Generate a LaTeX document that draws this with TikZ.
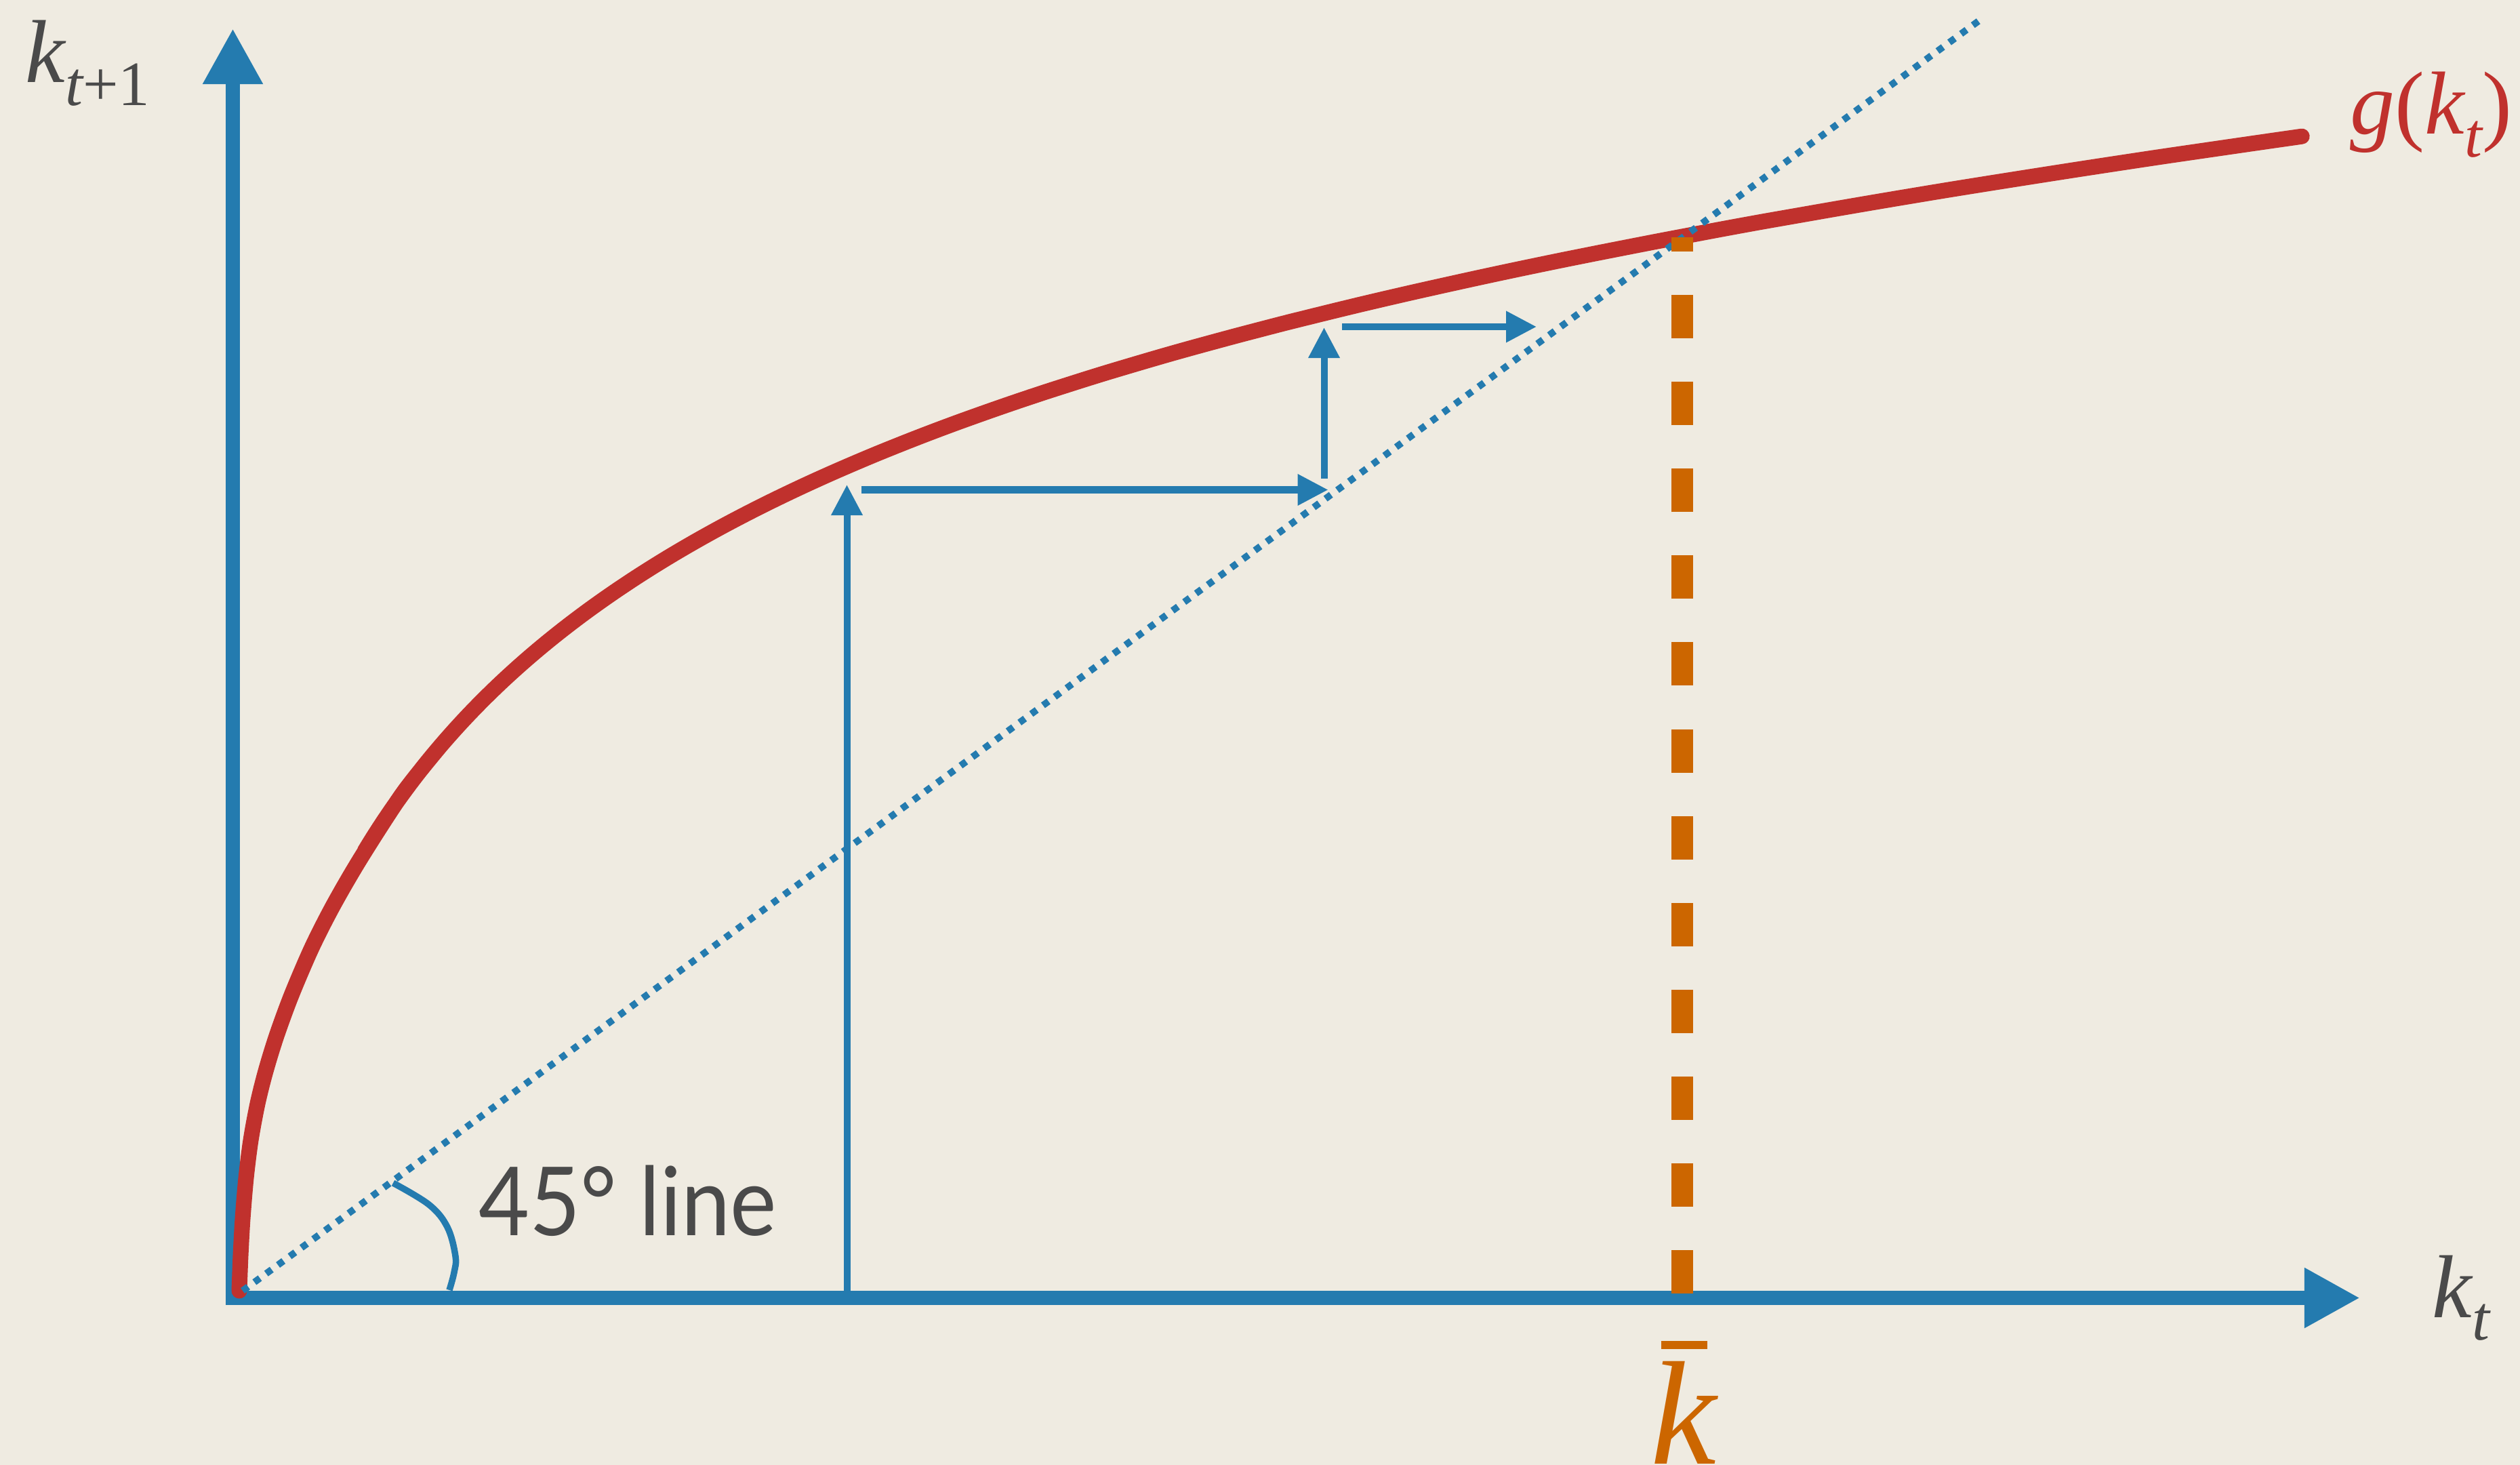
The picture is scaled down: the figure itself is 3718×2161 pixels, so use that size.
\documentclass[tikz,border=0pt]{standalone}
\usepackage{fontspec}
\newfontfamily\labelfont{Lato}
\newfontfamily\seriffont{Liberation Serif}
\usetikzlibrary{arrows.meta}
\definecolor{bg}{RGB}{239,235,225}
\definecolor{axisblue}{RGB}{36,123,175}
\definecolor{curvered}{RGB}{192,49,45}
\definecolor{steadyorange}{RGB}{204,102,0}
\definecolor{textgray}{RGB}{74,74,74}
\newcommand\mainsz{\fontsize{37.5}{45}\selectfont}
\newcommand\subsz{\fontsize{26.5}{30}\selectfont}
\newcommand\lowsub[1]{\raisebox{-0.33cm}{\subsz #1}}
\begin{document}
\begin{tikzpicture}[x=0.01cm,y=-0.01cm,
  declare function={gcy(\s)=1914.5-exp(6.824854+0.400283*(\s)-0.053622*(\s)*(\s)-0.0012515*(\s)*(\s)*(\s)+0.0024858*(\s)*(\s)*(\s)*(\s));},
  axisline/.style={draw=axisblue, line width=0.21cm, -{Triangle[length=0.82cm,width=0.83cm]}},
  steparrow/.style={draw=axisblue, line width=0.10cm, -{Triangle[length=0.45cm,width=0.44cm]}},
  diag/.style={draw=axisblue, line width=0.10cm, dash pattern=on 0.10cm off 0.115cm},
  gcurve/.style={draw=curvered, line width=0.23cm, line cap=round, line join=round},
  steady/.style={draw=steadyorange, line width=0.32cm, dash pattern=on 0.64cm off 0.64cm},
  anglearc/.style={draw=axisblue, line width=0.095cm},
  lbl/.style={inner sep=0pt, anchor=base west, text=textgray, font=\seriffont\mainsz},
]
\fill[bg] (0,0) rectangle (3718,2161);
\useasboundingbox (0,0) rectangle (3718,2161);

% axes
\coordinate (O) at (343.5,1914.5);
\coordinate (ybot) at (343.5,1925);
\coordinate (ytip) at (343.5,42);
\coordinate (xleft) at (333,1914.5);
\coordinate (xtip) at (3482,1914.5);
\draw[axisline] (ybot) -- (ytip);
\draw[axisline] (xleft) -- (xtip);

% g(k) curve: steep start near the origin, overlapping the fitted upper part
\draw[gcurve] plot[smooth, tension=0.5] coordinates {
 (353,1904) (355,1852) (358,1798) (363,1738) (370,1682) (380,1628)
 (392,1580) (408,1528) (430,1468) (460,1398) (492,1335) (533,1264.5)
 (594.2,1170.2) (648.4,1102.1)}
 plot[domain=-0.76:2.0224, samples=120, smooth, variable=\s] ({349.5+exp(\s+6)}, {gcy(\s)});

% 45 degree line
\coordinate (d0) at (358,1904);
\coordinate (d1) at (2926,26);
\draw[diag] (d0) -- (d1);

% angle arc
\draw[anglearc] plot[smooth, tension=0.6] coordinates {
 (580,1745) (633,1777) (660,1810) (672,1853) (670,1877) (663,1903)};

% steady state dashed line
\coordinate (kb) at (2482,1908);
\coordinate (kt) at (2482,350);
\draw[steady] (kb) -- (kt);

% staircase arrows
\coordinate (a1s) at (1249.5,1914);
\coordinate (a1e) at (1249.5,715);
\coordinate (a2s) at (1271,722.5);
\coordinate (a2e) at (1959.5,722.5);
\coordinate (a3s) at (1953.5,706);
\coordinate (a3e) at (1953.5,483);
\coordinate (a4s) at (1980,482);
\coordinate (a4e) at (2267,482);
\draw[steparrow] (a1s) -- (a1e);
\draw[steparrow] (a2s) -- (a2e);
\draw[steparrow] (a3s) -- (a3e);
\draw[steparrow] (a4s) -- (a4e);

% labels
\node[lbl] (ky) at (37,122) {{\itshape k}\lowsub{{\itshape t}+1}};
\node[lbl, text=curvered] (gl) at (3467,198) {{\itshape g}({\itshape k}\lowsub{\itshape t})};
\node[lbl] (kx) at (3588,1943) {{\itshape k}\lowsub{\itshape t}};
\node[lbl, text=steadyorange, font=\seriffont\fontsize{62}{70}\selectfont] (kbar) at (2435,2159)
  {\itshape\rlap{\kern0.15cm\rule[1.69cm]{0.68cm}{0.12cm}}k};
\node[inner sep=0pt, anchor=base west, text=textgray, font=\labelfont\fontsize{40}{48}\selectfont] (lab45) at (706,1822) {\scalebox{0.92}[1]{45° line}};
\end{tikzpicture}
\end{document}
